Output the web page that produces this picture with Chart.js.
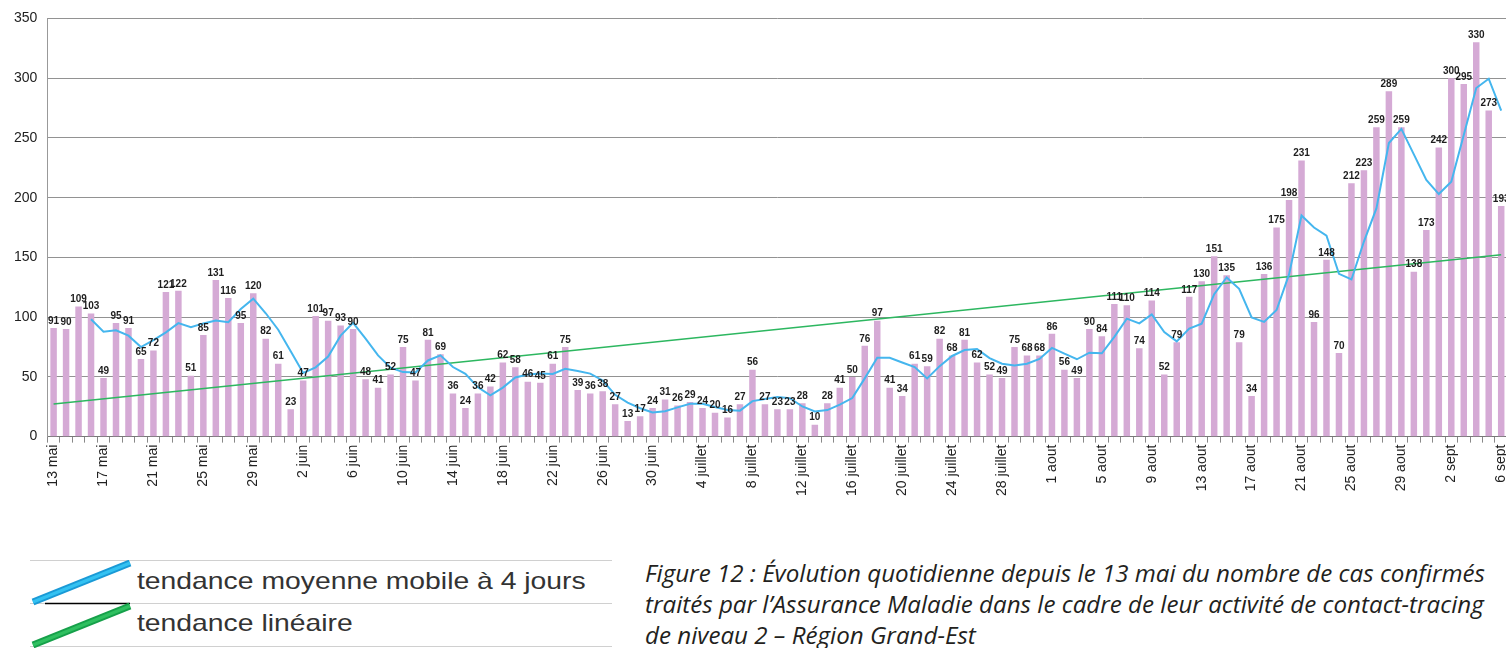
<!DOCTYPE html>
<html><head><meta charset="utf-8">
<script src="https://cdn.jsdelivr.net/npm/chart.js@4.4.1/dist/chart.umd.min.js"></script>
<style>
html,body{margin:0;padding:0;background:#fff;width:1506px;height:648px;overflow:hidden;position:relative;}
#wrap{position:absolute;left:0;top:0;width:1520px;height:498px;}
#legend{position:absolute;left:30px;top:560px;width:582px;height:88px;}
.legtxt{position:absolute;left:107px;font-family:"Liberation Sans",Arial,sans-serif;font-size:24px;color:#333;white-space:nowrap;transform:scaleX(1.18);transform-origin:0 0;}
#caption{position:absolute;left:645px;top:558px;font-family:"Open Sans","Noto Sans",sans-serif;font-style:italic;font-size:23px;line-height:31px;color:#231f20;white-space:nowrap;transform:scaleX(1.05);transform-origin:0 0;}
</style></head><body>
<div id="wrap"><canvas id="c"></canvas></div>
<div id="legend">
<svg width="582" height="88" style="position:absolute;left:0;top:0">
<line x1="0" y1="0.5" x2="582" y2="0.5" stroke="#d0d0d0" stroke-width="1"/>
<line x1="0" y1="43.5" x2="582" y2="43.5" stroke="#d0d0d0" stroke-width="1"/>
<line x1="0" y1="86.5" x2="582" y2="86.5" stroke="#d0d0d0" stroke-width="1"/>
<line x1="15" y1="43.5" x2="100" y2="43.5" stroke="#000" stroke-width="1.5"/>
<line x1="3" y1="42" x2="100" y2="3" stroke="#1a9ad6" stroke-width="7"/>
<line x1="3" y1="42" x2="100" y2="3" stroke="#33c2f2" stroke-width="3"/>
<line x1="3" y1="85" x2="100" y2="46" stroke="#16a04a" stroke-width="7"/>
<line x1="3" y1="85" x2="100" y2="46" stroke="#2fc060" stroke-width="3"/>
</svg>
<div class="legtxt" style="top:7px">tendance moyenne mobile à 4 jours</div>
<div class="legtxt" style="top:49px">tendance linéaire</div>
</div>
<div id="caption">Figure 12 : Évolution quotidienne depuis le 13 mai du nombre de cas confirmés<br>traités par l’Assurance Maladie dans le cadre de leur activité de contact-tracing<br>de niveau 2 – Région Grand-Est</div>
<script>
const categories = [
'13 mai','14 mai','15 mai','16 mai','17 mai','18 mai','19 mai','20 mai','21 mai','22 mai','23 mai','24 mai','25 mai','26 mai','27 mai','28 mai','29 mai','30 mai','31 mai',
'1 juin','2 juin','3 juin','4 juin','5 juin','6 juin','7 juin','8 juin','9 juin','10 juin','11 juin','12 juin','13 juin','14 juin','15 juin','16 juin','17 juin','18 juin','19 juin','20 juin','21 juin','22 juin','23 juin','24 juin','25 juin','26 juin','27 juin','28 juin','29 juin','30 juin',
'1 juillet','2 juillet','3 juillet','4 juillet','5 juillet','6 juillet','7 juillet','8 juillet','9 juillet','10 juillet','11 juillet','12 juillet','13 juillet','14 juillet','15 juillet','16 juillet','17 juillet','18 juillet','19 juillet','20 juillet','21 juillet','22 juillet','23 juillet','24 juillet','25 juillet','26 juillet','27 juillet','28 juillet','29 juillet','30 juillet','31 juillet',
'1 aout','2 aout','3 aout','4 aout','5 aout','6 aout','7 aout','8 aout','9 aout','10 aout','11 aout','12 aout','13 aout','14 aout','15 aout','16 aout','17 aout','18 aout','19 aout','20 aout','21 aout','22 aout','23 aout','24 aout','25 aout','26 aout','27 aout','28 aout','29 aout','30 aout','31 aout',
'1 sept','2 sept','3 sept','4 sept','5 sept','6 sept'];

const tickLabels = ['13 mai','17 mai','21 mai','25 mai','29 mai','2 juin','6 juin','10 juin','14 juin','18 juin','22 juin','26 juin','30 juin','4 juillet','8 juillet','12 juillet','16 juillet','20 juillet','24 juillet','28 juillet','1 aout','5 aout','9 aout','13 aout','17 aout','21 aout','25 aout','29 aout','2 sept','6 sept'];

const cases = [
91,90,109,103,49,95,91,65,72,121,122,51,85,131,116,95,120,82,61,
23,47,101,97,93,90,48,41,52,75,47,81,69,36,24,36,42,62,58,46,45,61,75,39,36,38,27,13,17,24,
31,26,29,24,20,16,27,56,27,23,23,28,10,28,41,50,76,97,41,34,61,59,82,68,81,62,52,49,75,68,68,
86,56,49,90,84,111,110,74,114,52,79,117,130,151,135,79,34,136,175,198,231,96,148,70,212,223,259,289,259,138,173,242,
300,295,330,273,193];

const movingAvg4 = [
null,null,null,98.25,87.75,89,84.5,75,80.75,87.25,95,91.5,94.75,97.25,95.75,106.75,115.5,103.25,89.5,
71.5,53.25,58,67,84.5,95.25,82,68,57.75,54,53.75,63.75,68,58.25,52.5,41.25,34.5,41,49.5,52,52.75,52.5,56.75,55,52.75,47,35,28.5,23.75,20.25,
21.25,24.5,27.5,27.5,24.75,22.25,21.75,29.75,31.5,33.25,32.25,25.25,21,22.25,26.75,32.25,48.75,66,66,62,58.25,48.75,59,67.5,72.5,73.25,65.75,61,59.5,61,65,
74.25,69.5,64.75,70.25,69.75,83.5,98.75,94.75,102.25,87.5,79.75,90.5,94.5,119.25,133.25,123.75,99.75,96,106,135.75,185,175,168.25,136.25,131.5,163.25,191,245.75,257.5,236.25,214.75,203,
213.25,252.5,291.75,299.5,272.75];

const linearTrendEnds = [27.3, 152.3];

const yTicks = [0,50,100,150,200,250,300,350];

const trendData = categories.map((c,i)=> i===0 ? linearTrendEnds[0] : (i===categories.length-1 ? linearTrendEnds[1] : null));

const barLabels = {
  id:'barLabels',
  afterDatasetsDraw(chart){
    const meta = chart.getDatasetMeta(2);
    const ctx = chart.ctx;
    ctx.save();
    ctx.font = 'bold 10px "Liberation Sans", Arial, sans-serif';
    ctx.fillStyle = '#1e1e1e';
    ctx.textAlign = 'center';
    ctx.textBaseline = 'bottom';
    meta.data.forEach((bar,i)=>{
      ctx.fillText(String(cases[i]), bar.x, bar.y - 2);
    });
    ctx.restore();
  }
};

new Chart(document.getElementById('c'), {
  type:'bar',
  data:{
    labels: categories,
    datasets:[
      {type:'line', label:'tendance moyenne mobile à 4 jours', data: movingAvg4, borderColor:'#45b6ee', borderWidth:2, pointRadius:0, tension:0, fill:false, order:0},
      {type:'line', label:'tendance linéaire', data: trendData, borderColor:'#2db760', borderWidth:1.5, pointRadius:0, spanGaps:true, fill:false, order:0},
      {type:'bar', label:'cas', data: cases, backgroundColor:'#d5aad5', barPercentage:0.52, categoryPercentage:1, order:1}
    ]
  },
  options:{
    responsive:true, maintainAspectRatio:false, animation:false,
    layout:{padding:{top:14,right:0,left:4,bottom:0}},
    plugins:{legend:{display:false}, tooltip:{enabled:false}},
    scales:{
      x:{
        grid:{display:true, drawOnChartArea:false, drawTicks:true, tickLength:6, color:'#888', offset:true},
        border:{display:true, color:'#777', width:1},
        ticks:{autoSkip:false, maxRotation:90, minRotation:90, padding:2, color:'#222', font:{family:'"Liberation Sans", Arial, sans-serif', size:14},
          callback:function(v,i){ const l = categories[i]; return tickLabels.includes(l) ? l : ''; }}
      },
      y:{
        min:0, max:350,
        afterBuildTicks(axis){ axis.ticks = yTicks.map(v=>({value:v})); },
        grid:{color:'#929292', lineWidth:1, drawTicks:false},
        border:{display:true, color:'#999'},
        ticks:{padding:10, color:'#222', font:{family:'"Liberation Sans", Arial, sans-serif', size:14}}
      }
    }
  },
  plugins:[barLabels]
});
</script>
</body></html>
